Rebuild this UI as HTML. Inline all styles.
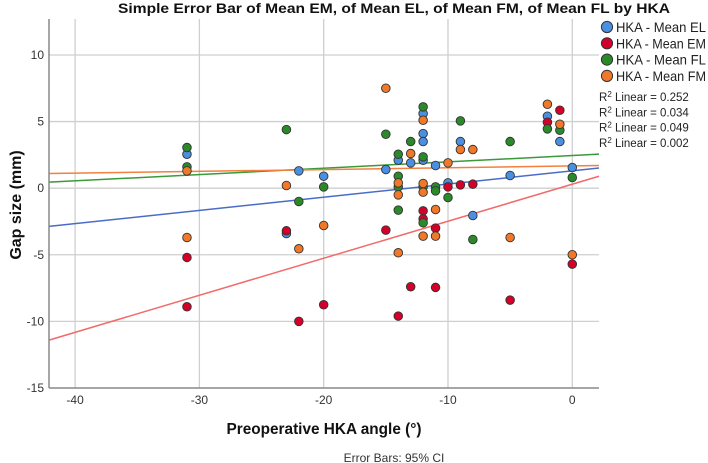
<!DOCTYPE html>
<html><head><meta charset="utf-8"><style>
html,body{margin:0;padding:0;background:#fff;}
svg{display:block;font-family:"Liberation Sans",sans-serif;}
</style></head><body>
<svg id="chart" width="708" height="463" viewBox="0 0 708 463">
  <rect x="0" y="0" width="708" height="463" fill="#fff"/>
  <text x="394" y="13" text-anchor="middle" font-size="14" font-weight="bold" fill="#111" textLength="552" lengthAdjust="spacingAndGlyphs">Simple Error Bar of Mean EM,  of Mean EL,  of Mean FM,  of Mean FL by HKA</text>
  <g id="grid"></g>
  <g id="lines"></g>
  <g id="points"></g>
  <g id="axes"></g>
  <text transform="translate(21,205) rotate(-90)" text-anchor="middle" font-size="16" font-weight="bold" fill="#111">Gap size (mm)</text>
  <text x="324" y="434" text-anchor="middle" font-size="16" font-weight="bold" fill="#111" textLength="195" lengthAdjust="spacingAndGlyphs">Preoperative HKA angle (°)</text>
  <text x="394" y="462" text-anchor="middle" font-size="12" fill="#333">Error Bars: 95% CI</text>
  <g id="legend"></g>
</svg>
<script>
const xTicks = [-40, -30, -20, -10, 0];
const yTicks = [-15, -10, -5, 0, 5, 10];
const seriesNames = ["HKA - Mean EL", "HKA - Mean EM", "HKA - Mean FL", "HKA - Mean FM"];
const r2Labels = ["0.252", "0.034", "0.049", "0.002"];
const fitIntercepts = [1.3, 0.3, 2.45, 1.67];
const fitSlopes = [0.099, 0.278, 0.0475, 0.0136];
const elX = [-31,-23,-22,-20,-15,-14,-13,-12,-12,-12,-12,-11,-10,-9,-8,-5,-2,-1,0];
const elY = [2.55,-3.4,1.3,0.9,1.4,2.1,1.9,5.6,4.1,3.5,2.1,1.7,0.4,3.5,-2.05,0.95,5.4,3.5,1.55];
const emX = [-31,-31,-23,-22,-20,-15,-14,-13,-12,-12,-11,-11,-10,-9,-8,-5,-2,-1,0];
const emY = [-5.2,-8.9,-3.2,-10,-8.75,-3.15,-9.6,-7.4,-1.7,-2.3,-3.0,-7.45,0.1,0.25,0.3,-8.4,4.95,5.85,-5.7];
const flX = [-31,-31,-23,-22,-20,-15,-14,-14,-14,-14,-13,-12,-12,-12,-12,-11,-11,-10,-9,-8,-5,-2,-1,0];
const flY = [3.05,1.6,4.4,-1.0,0.1,4.05,2.55,0.9,0.1,-1.65,3.5,6.1,2.35,0.1,-2.6,0.1,-0.2,-0.7,5.05,-3.85,3.5,4.45,4.35,0.8];
const fmX = [-31,-31,-23,-22,-20,-15,-14,-14,-14,-13,-12,-12,-12,-12,-11,-11,-10,-9,-8,-5,-2,-1,0];
const fmY = [1.3,-3.7,0.2,-4.55,-2.8,7.5,0.4,-0.5,-4.85,2.6,5.1,0.35,-0.3,-3.6,-1.6,-3.6,1.9,2.9,2.9,-3.7,6.3,4.8,-5.0];

const NS = "http://www.w3.org/2000/svg";
const PL = 49, PR = 599, PT = 19, PB = 388;
const XMIN = -42.1, XMAX = 2.15, YMIN = -15, YMAX = 12.7;
function sx(v){ return PL + (v - XMIN) / (XMAX - XMIN) * (PR - PL); }
function sy(v){ return PB - (v - YMIN) / (YMAX - YMIN) * (PB - PT); }
function mk(tag, attrs, parent){ const e = document.createElementNS(NS, tag); for (const k in attrs) e.setAttribute(k, attrs[k]); parent.appendChild(e); return e; }

const grid = document.getElementById("grid");
const axes = document.getElementById("axes");
xTicks.forEach(t => {
  const l = mk("line", {x1: sx(t), x2: sx(t), y1: PT, y2: PB, stroke: "#cfcfcf", "stroke-width": 1.3}, grid);
  
  
  const tx = mk("text", {x: sx(t), y: 404, "text-anchor": "middle", "font-size": 12, fill: "#333"}, axes);
  tx.textContent = t;
  
  
});
yTicks.forEach(t => {
  if (t !== YMIN) {
    const l = mk("line", {x1: PL, x2: PR, y1: sy(t), y2: sy(t), stroke: "#cfcfcf", "stroke-width": 1.3}, grid);
    
    
  }
  const tx = mk("text", {x: 44, y: sy(t) + 4, "text-anchor": "end", "font-size": 12, fill: "#333"}, axes);
  tx.textContent = t;
  
  
});
const ya = mk("line", {x1: PL, x2: PL, y1: PT, y2: PB, stroke: "#888", "stroke-width": 1.5}, axes);


const xa = mk("line", {x1: PL, x2: PR, y1: PB, y2: PB, stroke: "#888", "stroke-width": 1.5}, axes);



const series = [
  {x: elX, y: elY, fill: "#4a90e2", line: "#4a6cc8", key: "el"},
  {x: emX, y: emY, fill: "#d4002a", line: "#f26a6a", key: "em"},
  {x: flX, y: flY, fill: "#2a8a2a", line: "#3a9a3a", key: "fl"},
  {x: fmX, y: fmY, fill: "#f07828", line: "#f28040", key: "fm"}
];
const linesG = document.getElementById("lines");
const ptsG = document.getElementById("points");
series.forEach((s, i) => {
  const a = fitIntercepts[i], b = fitSlopes[i];
  const ln = mk("line", {x1: sx(XMIN), y1: sy(a + b*XMIN), x2: sx(XMAX), y2: sy(a + b*XMAX), stroke: s.line, "stroke-width": 1.5}, linesG);
  
  
});
series.forEach(s => {
  s.x.forEach((xv, i) => {
    const c = mk("circle", {cx: sx(xv), cy: sy(s.y[i]), r: 4.3, fill: s.fill, stroke: "#333", "stroke-width": 0.9}, ptsG);
    
    
  });
});

const leg = document.getElementById("legend");
const bg = mk("rect", {x: 599, y: 18, width: 109, height: 132, fill: "#fff"}, leg);


seriesNames.forEach((nm, i) => {
  const y = 27 + i * 16.3;
  const c = mk("circle", {cx: 607, cy: y, r: 5.6, fill: series[i].fill, stroke: "#333", "stroke-width": 1}, leg);
  
  
  const t = mk("text", {x: 616, y: y + 5, "font-size": 14, fill: "#222", textLength: 90, lengthAdjust: "spacingAndGlyphs"}, leg);
  t.textContent = nm;
  
  
});
r2Labels.forEach((v, i) => {
  const y = 101 + i * 15.3;
  const t = mk("text", {x: 599, y: y, "font-size": 11.5, fill: "#222"}, leg);
  t.innerHTML = 'R<tspan dy="-4" font-size="8">2</tspan><tspan dy="4"> Linear = ' + v + '</tspan>';
  
  
});
</script>
</body></html>
